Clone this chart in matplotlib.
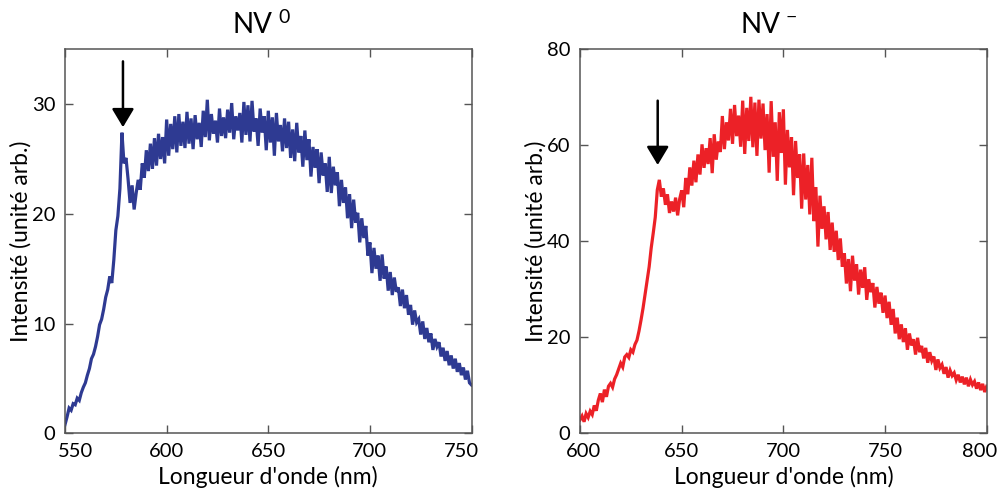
import numpy as np
import matplotlib.pyplot as plt
from matplotlib.transforms import ScaledTranslation

plt.rcParams['font.family'] = ['Lato', 'DejaVu Sans']

# NV0 spectrum, 550-750 nm, 1 nm step
wl_nv0 = np.arange(550, 751)
int_nv0 = [
    0.8, 1.5, 2.3, 2.1, 2.7, 2.6, 3.2, 3.0, 3.7, 4.2,
    4.6, 5.3, 5.9, 6.8, 7.2, 7.9, 8.8, 9.9, 10.4, 11.3,
    12.4, 13.1, 14.3, 13.7, 15.8, 18.5, 19.8, 22.3, 27.4, 24.6,
    25.1, 23.2, 21.0, 22.6, 20.4, 21.9, 23.1, 22.2, 24.6, 23.3,
    25.8, 23.9, 26.4, 24.1, 26.9, 24.4, 27.3, 25.0, 27.0, 24.6,
    28.6, 25.3, 28.2, 25.9, 28.9, 25.6, 29.1, 26.2, 28.4, 26.0,
    29.3, 26.4, 28.7, 25.9, 29.0, 26.8, 28.3, 26.1, 29.4, 27.0,
    30.4, 26.7, 29.1, 27.3, 28.5, 26.5, 29.6, 27.1, 28.8, 26.9,
    29.5, 27.4, 30.1, 26.8, 28.9, 27.6, 29.2, 26.5, 30.2, 27.2,
    29.9, 26.6, 30.3, 27.5, 28.7, 26.2, 29.6, 27.4, 28.9, 25.8,
    29.4, 26.5, 28.8, 25.3, 29.2, 26.6, 28.1, 25.7, 28.7, 26.0,
    28.4, 25.1, 27.7, 24.8, 28.3, 25.6, 27.1, 24.3, 27.6, 24.9,
    26.8, 23.4, 26.1, 24.2, 25.9, 22.8, 25.6, 23.5, 24.6, 22.0,
    25.2, 21.9, 24.3, 22.6, 23.8, 20.7, 23.1, 21.0, 22.4, 19.6,
    21.8, 18.7, 21.3, 19.2, 20.1, 17.4, 19.6, 17.8, 18.9, 16.2,
    17.4, 14.6, 16.9, 15.0, 16.2, 13.9, 16.3, 14.1, 15.2, 13.0,
    14.7, 12.6, 14.2, 12.9, 13.3, 11.6, 13.1, 11.4, 12.6, 10.8,
    11.7, 9.9, 11.2, 10.1, 10.4, 9.0, 10.2, 8.6, 9.6, 8.3,
    9.1, 7.6, 8.6, 7.9, 8.3, 7.0, 7.8, 6.6, 7.5, 6.2,
    7.1, 5.9, 6.8, 5.6, 6.4, 5.3, 6.0, 4.9, 5.7, 4.6,
    4.4,
]

# NV- spectrum, 600-800 nm, 1 nm step
wl_nvm = np.arange(600, 801)
int_nvm = [
    2.8, 3.6, 2.4, 4.1, 3.3, 4.6, 3.9, 5.8, 4.7, 6.9,
    8.3, 6.5, 9.1, 7.6, 9.8, 10.4, 9.6, 11.3, 12.2, 13.4,
    14.6, 13.8, 15.9, 16.4, 15.8, 17.4, 16.9, 18.5, 19.4, 21.3,
    23.6, 26.1, 29.0, 31.8, 34.7, 38.6, 41.7, 45.0, 50.7, 52.8,
    49.3, 51.0, 47.6, 49.8, 45.9, 48.3, 46.2, 49.1, 45.4, 48.8,
    50.6, 47.1, 53.2, 49.8, 55.4, 51.6, 56.8, 52.3, 58.1, 53.9,
    60.2, 55.3, 59.4, 56.1, 61.5, 54.2, 62.3, 57.0, 60.8, 58.6,
    66.1, 59.2, 64.8, 61.0, 67.6, 60.3, 68.4, 61.9, 66.2, 59.7,
    69.3, 58.2, 67.8, 60.9, 70.1, 59.6, 68.9, 57.8, 69.5, 61.4,
    68.7, 59.0, 66.5, 54.3, 69.2, 57.6, 64.8, 52.6, 66.9, 58.4,
    67.5, 51.8, 63.2, 55.4, 61.7, 49.6, 60.9, 53.2, 58.1, 46.8,
    58.3, 48.7, 55.9, 45.6, 57.4, 44.2, 51.3, 38.9, 49.5, 42.6,
    47.3, 40.4, 46.1, 38.2, 43.9, 37.8, 42.2, 36.1, 40.6, 34.7,
    37.5, 31.2, 36.3, 29.6, 37.0, 31.8, 35.2, 28.9, 34.1, 30.3,
    34.6, 27.8, 32.1, 29.4, 31.3, 26.2, 30.5, 27.0, 29.3, 25.1,
    28.7, 24.0, 27.4, 22.6, 25.9, 20.8, 24.1, 19.6, 22.7, 19.0,
    21.9, 17.4, 20.8, 18.3, 19.6, 16.4, 19.9, 16.9, 18.2, 15.6,
    17.8, 14.7, 16.9, 15.1, 16.0, 13.2, 15.4, 13.6, 14.3, 12.4,
    13.8, 11.6, 13.1, 12.0, 12.6, 11.1, 12.2, 10.6, 11.8, 10.2,
    11.6, 9.8, 11.2, 10.1, 10.8, 9.3, 10.6, 9.0, 10.3, 8.6,
    9.8,
]

# zero-phonon line arrows: (x, tip y, tail y)
zpl_nv0 = (578.5, 27.9, 33.9)
zpl_nvm = (638.2, 55.9, 69.3)

W, H = 999, 492
fig = plt.figure(figsize=(W / 100, H / 100), dpi=100)
ax1 = fig.add_axes([0.0651, 0.1193, 0.4069, 0.7805])
ax2 = fig.add_axes([0.5806, 0.1193, 0.4071, 0.7805])

# title pieces: (main text, superscript, right edge of "NV" in px)
titles = [('NV', '0', 272), ('NV', '\u2212', 780)]

panels = [
    (ax1, wl_nv0, int_nv0, '#2E3A92', (550, 750), (0, 35), [0, 10, 20, 30], zpl_nv0),
    (ax2, wl_nvm, int_nvm, '#EC2127', (600, 800), (0, 80), [0, 20, 40, 60, 80], zpl_nvm),
]

for ax, x, y, col, xl, yl, yt, arr in panels:
    ax.plot(x, y, color=col, lw=2.3, solid_joinstyle='miter')
    ax.set_xlim(*xl)
    ax.set_ylim(*yl)
    ax.set_xticks(np.arange(xl[0], xl[1] + 1, 50))
    ax.set_yticks(yt)
    ax.tick_params(direction='in', length=6, width=1, color='#555555',
                   labelsize=14.5, top=True, right=True, pad=7)
    for s in ax.spines.values():
        s.set_color('#555555')
        s.set_linewidth(1.1)
    ax.set_xlabel("Longueur d'onde (nm)", fontsize=16.5, labelpad=4)
    ax.set_ylabel("Intensité (unité arb.)", fontsize=16.5, labelpad=0)
    ax.annotate('', xy=(arr[0], arr[1]), xytext=(arr[0], arr[2]),
                arrowprops=dict(arrowstyle='-|>,head_width=0.45,head_length=0.75',
                                lw=1.8, color='black', mutation_scale=15,
                                shrinkA=0, shrinkB=0))

for main, sup, xr in titles:
    fig.text(xr / W, 1 - 33 / H, main, fontsize=20, ha='right', va='baseline')
    fig.text((xr + 6) / W, 1 - 23 / H, sup, fontsize=14, ha='left', va='baseline')


def shift_label(lab, dx):
    lab.set_transform(lab.get_transform() + ScaledTranslation(dx / 100, 0, fig.dpi_scale_trans))


# edge tick labels sit a little inside the frame
labs = ax1.get_xticklabels()
shift_label(labs[0], 10)
shift_label(labs[-1], -10)
labs = ax2.get_xticklabels()
shift_label(labs[0], 3)
shift_label(labs[-1], -7)

fig.savefig('out.png', dpi=100)
